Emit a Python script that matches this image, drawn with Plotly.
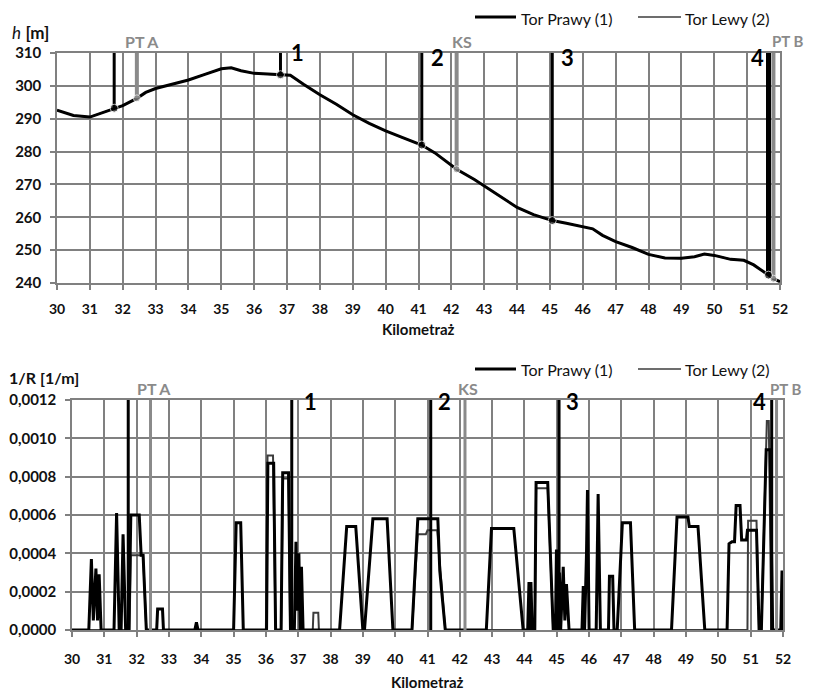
import plotly.graph_objects as go

# ---------------- data ----------------
# elevation profile (km, h [m])
km_profile = [30.0, 30.5, 31.0, 31.3, 31.74, 32.0, 32.43, 32.7, 33.0, 33.5, 34.0, 34.5, 35.0, 35.3,
              35.6, 36.0, 36.5, 36.8, 37.1, 37.5, 38.0, 38.5, 39.0, 39.5, 40.0, 40.5, 41.1, 41.5,
              42.16, 42.7, 43.0, 43.5, 44.0, 44.5, 45.07, 45.5, 46.0, 46.3, 46.6, 47.0, 47.5, 48.0,
              48.5, 49.0, 49.4, 49.7, 50.0, 50.5, 50.9, 51.2, 51.65, 51.8, 52.0]
h_profile = [292.6, 291.0, 290.5, 291.5, 293.2, 294.0, 296.2, 298.0, 299.2, 300.4, 301.8, 303.5, 305.2, 305.5,
             304.6, 303.8, 303.5, 303.4, 303.2, 300.5, 297.3, 294.4, 291.2, 288.6, 286.3, 284.3, 282.0, 279.6,
             274.6, 271.5, 269.5, 266.3, 263.0, 260.8, 259.0, 258.2, 257.2, 256.5, 254.5, 252.6, 250.8, 248.7,
             247.6, 247.5, 248.0, 248.8, 248.4, 247.2, 246.9, 245.5, 242.4, 241.3, 240.4]

# curvature 1/R [1/m] - Tor Prawy (1)
km_curv_r = [30.0, 30.52, 30.6, 30.66, 30.74, 30.79, 30.84, 30.9, 31.3, 31.38, 31.46, 31.52, 31.58, 31.66,
             31.76, 31.82, 32.08, 32.14, 32.2, 32.3, 32.62, 32.65, 32.8, 32.83, 33.8, 33.85, 33.9,
             35.0, 35.08, 35.22, 35.3, 36.02, 36.06, 36.24, 36.3, 36.47, 36.52, 36.7, 36.76,
             36.88, 36.93, 36.97, 37.02, 37.06, 37.1, 37.15, 38.28, 38.5, 38.78, 39.0, 39.05, 39.31,
             39.75, 39.93, 40.52, 40.7, 41.32, 41.38, 41.55, 42.82, 42.98, 43.67, 43.96,
             44.1, 44.14, 44.17, 44.2, 44.24, 44.32, 44.36, 44.72, 44.89, 44.96, 44.99, 45.03, 45.08,
             45.12, 45.2, 45.25, 45.3, 45.38, 45.78, 45.82, 45.86, 45.92, 45.95, 46.0, 46.22, 46.28,
             46.35, 46.6, 46.63, 46.73, 46.77, 46.87, 47.03, 47.28, 47.41, 48.55, 48.72, 49.06, 49.1,
             49.37, 49.58, 50.27, 50.33, 50.42, 50.5, 50.55, 50.67, 50.72, 50.87, 50.9, 51.18, 51.26,
             51.33, 51.48, 51.6, 51.68, 51.93, 51.97, 52.0]
curv_r = [0, 0, 0.00037, 0.00005, 0.00032, 0.00005, 0.00029, 0, 0, 0.00061, 0, 0, 0.00050, 0,
          0, 0.00060, 0.00060, 0.00039, 0.00039, 0, 0, 0.00011, 0.00011, 0, 0, 0.00004, 0,
          0, 0.00056, 0.00056, 0, 0, 0.00087, 0.00087, 0, 0, 0.00082, 0.00082, 0,
          0, 0.00046, 0.00010, 0.00040, 0, 0.00033, 0, 0, 0.00054, 0.00054, 0, 0, 0.00058,
          0.00058, 0, 0, 0.00058, 0.00058, 0.00031, 0, 0, 0.00053, 0.00053, 0,
          0, 0.00025, 0, 0.00025, 0, 0, 0.00077, 0.00077, 0, 0, 0.00042, 0, 0.00030,
          0, 0.00033, 0.00005, 0.00024, 0, 0, 0.00023, 0, 0.00040, 0.00073, 0, 0, 0.00071,
          0, 0, 0.00028, 0.00028, 0, 0, 0.00056, 0.00056, 0, 0, 0.00059, 0.00059, 0.00054,
          0.00054, 0, 0, 0.00045, 0.00046, 0.00046, 0.00065, 0.00065, 0.00047, 0.00047, 0.00052, 0.00052, 0,
          0, 0.00094, 0.00094, 0, 0, 0.00031, 0]

# curvature 1/R [1/m] - Tor Lewy (2)
km_curv_l = [30.0, 31.78, 31.82, 32.2, 32.3, 36.0, 36.05, 36.22, 36.3, 36.47, 36.53, 36.7, 36.75,
             37.45, 37.47, 37.62, 37.64, 40.52, 40.7, 40.95, 41.0, 41.3, 41.4, 41.55,
             44.32, 44.36, 44.72, 44.89, 50.9, 50.92, 51.18, 51.26, 51.33, 51.5, 51.56, 51.64, 52.0]
curv_l = [0, 0, 0.00039, 0.00039, 0, 0, 0.00091, 0.00091, 0, 0, 0.00079, 0.00079, 0,
          0, 0.00009, 0.00009, 0, 0, 0.00050, 0.00050, 0.00052, 0.00052, 0.00031, 0,
          0, 0.00074, 0.00074, 0, 0, 0.00057, 0.00057, 0, 0, 0.00109, 0.00109, 0, 0]

# characteristic points
marker_km_r = [31.74, 36.8, 41.1, 45.07, 51.65]
marker_h_r = [293.2, 303.4, 282.0, 259.0, 242.4]
marker_lbl_r = ["", "1", "2", "3", "4"]
marker_km_l = [32.43, 42.16, 51.8]
marker_h_l = [296.2, 274.6, 241.3]
marker_lbl_l = ["PT A", "KS", "PT B"]

series_names = ["Tor Prawy (1)", "Tor Lewy (2)"]
x_ticks = list(range(30, 53))
h_ticks = [240, 250, 260, 270, 280, 290, 300, 310]
c_ticks = [0.0, 0.0002, 0.0004, 0.0006, 0.0008, 0.0010, 0.0012]

# ---------------- figure ----------------
OFF = 8                      # page body margin
W, H = 813 - OFF, 692 - OFF
FONT = "Lato"
BLACK = "#000000"
GRAY = "#8a8a8a"
LEWY = "#3c3c3c"
GRID = "#808080"
TXT = "#111111"


def px(p):
    return (p - OFF) / W


def py(p):
    return 1 - (p - OFF) / H


fig = go.Figure()

# --- top chart ---
fig.add_trace(go.Scatter(x=km_profile, y=h_profile, mode="lines", name=series_names[1],
                         line=dict(color=LEWY, width=1.6), xaxis="x", yaxis="y"))
fig.add_trace(go.Scatter(x=km_profile, y=h_profile, mode="lines", name=series_names[0],
                         line=dict(color=BLACK, width=3), xaxis="x", yaxis="y"))
for k, h in zip(marker_km_l, marker_h_l):
    fig.add_trace(go.Scatter(x=[k, k], y=[h, h_ticks[-1]], mode="lines+markers",
                             line=dict(color=GRAY, width=4),
                             marker=dict(size=[7, 0], color=GRAY), xaxis="x", yaxis="y"))
for i, (k, h) in enumerate(zip(marker_km_r, marker_h_r)):
    fig.add_trace(go.Scatter(x=[k, k], y=[h, h_ticks[-1]], mode="lines+markers",
                             line=dict(color=BLACK, width=5 if i == len(marker_km_r) - 1 else 3),
                             marker=dict(size=[8, 0], color=BLACK), xaxis="x", yaxis="y"))

# --- bottom chart ---
fig.add_trace(go.Scatter(x=km_curv_l, y=curv_l, mode="lines", name=series_names[1],
                         line=dict(color=LEWY, width=2), xaxis="x2", yaxis="y2"))
fig.add_trace(go.Scatter(x=km_curv_r, y=curv_r, mode="lines", name=series_names[0],
                         line=dict(color=BLACK, width=3), xaxis="x2", yaxis="y2"))
for k in marker_km_l:
    fig.add_trace(go.Scatter(x=[k, k], y=[c_ticks[0], c_ticks[-1]], mode="lines",
                             line=dict(color=GRAY, width=3), xaxis="x2", yaxis="y2"))
for k in marker_km_r:
    fig.add_trace(go.Scatter(x=[k, k], y=[c_ticks[0], c_ticks[-1]], mode="lines",
                             line=dict(color=BLACK, width=3), xaxis="x2", yaxis="y2"))

tickfont = dict(family=FONT, size=15, color=TXT, weight="bold")
axis_common = dict(showgrid=True, gridcolor=GRID, gridwidth=1.5, showline=True, linecolor=GRID,
                   linewidth=1.5, mirror=True, ticks="outside", ticklen=5, tickcolor=GRID,
                   tickwidth=1.5, zeroline=False, tickfont=tickfont, automargin=False)
xtickfont = dict(family=FONT, size=14, color=TXT, weight="bold")

fig.update_layout(
    width=W, height=H, margin=dict(l=0, r=0, t=0, b=0),
    paper_bgcolor="white", plot_bgcolor="white",
    separators=", ", showlegend=False,
    xaxis=dict(domain=[px(57), px(780)], range=[30, 52], tickvals=x_ticks, anchor="y",
               ticklabelstandoff=7, **{**axis_common, "tickfont": xtickfont}),
    yaxis=dict(domain=[py(283), py(53)], range=[240, 310], tickvals=h_ticks, anchor="x",
               ticklabelstandoff=6, **axis_common),
    xaxis2=dict(domain=[px(72), px(783)], range=[30, 52], tickvals=x_ticks, anchor="y2",
                ticklabelstandoff=10, **{**axis_common, "tickfont": xtickfont}),
    yaxis2=dict(domain=[py(630), py(400)], range=[0, 0.0012], tickvals=c_ticks, tickformat=".4f",
                anchor="x2", ticklabelstandoff=6, **axis_common),
)

ann = []
shapes = []

# legends (drawn as key lines + text)
for ly, anchor_top in ((17, True), (369, False)):
    keys = [(475, 516, 3, BLACK, 520), (638, 681, 1.5, LEWY, 684)]
    for (x0, x1, w, c, tx), name in zip(keys, series_names):
        shapes.append(dict(type="line", xref="paper", yref="paper", x0=px(x0), x1=px(x1),
                           y0=py(ly), y1=py(ly), line=dict(color=c, width=w)))
        ann.append(dict(text=name, x=px(tx), y=1 if anchor_top else py(ly), xref="paper", yref="paper",
                        xanchor="left", yanchor="top" if anchor_top else "middle", showarrow=False,
                        borderpad=0, font=dict(family=FONT, size=16, color=TXT)))

# axis titles
ann.append(dict(text="<i>h</i> <b>[m]</b>", x=px(10), y=py(32), xref="paper", yref="paper",
                xanchor="left", yanchor="middle", showarrow=False,
                font=dict(family=FONT, size=17, color=TXT)))
ann.append(dict(text="<b>1/R [1/m]</b>", x=px(7), y=py(377), xref="paper", yref="paper",
                xanchor="left", yanchor="middle", showarrow=False,
                font=dict(family=FONT, size=16, color=TXT)))
ann.append(dict(text="<b>Kilometraż</b>", x=px((57 + 780) / 2), y=py(329), xref="paper", yref="paper",
                xanchor="center", yanchor="middle", showarrow=False, borderpad=0,
                font=dict(family=FONT, size=15, color=TXT)))
ann.append(dict(text="<b>Kilometraż</b>", x=px((72 + 783) / 2), y=py(682), xref="paper", yref="paper",
                xanchor="center", yanchor="middle", showarrow=False, borderpad=0,
                font=dict(family=FONT, size=15, color=TXT)))

# point labels, top chart
for k, lbl in zip(marker_km_r, marker_lbl_r):
    if not lbl:
        continue
    right = lbl == "4"
    ann.append(dict(text=f"<b>{lbl}</b>", x=k, y=py(52 if lbl == "1" else 57), xref="x", yref="paper",
                    xanchor="right" if right else "left", xshift=-3 if right else (9 if lbl == "1" else 7),
                    yanchor="middle", showarrow=False,
                    font=dict(family=FONT, size=22, color=BLACK)))
for k, lbl in zip(marker_km_l, marker_lbl_l):
    left = lbl == "PT B"
    ann.append(dict(text=f"<b>{lbl}</b>", x=k, y=py(41), xref="x", yref="paper",
                    xanchor="left" if left else "center", xshift=-3 if left else 5,
                    yanchor="middle", showarrow=False,
                    font=dict(family=FONT, size=16 if not left else 15, color=GRAY)))
# point labels, bottom chart
for k, lbl in zip(marker_km_r, marker_lbl_r):
    if not lbl:
        continue
    right = lbl == "4"
    ann.append(dict(text=f"<b>{lbl}</b>", x=k, y=py(401), xref="x2", yref="paper",
                    xanchor="right" if right else "left",
                    xshift=-4 if right else (10 if lbl == "1" else 5),
                    yanchor="middle", showarrow=False,
                    font=dict(family=FONT, size=22, color=BLACK)))
for k, lbl in zip(marker_km_l, marker_lbl_l):
    left = lbl == "PT B"
    ann.append(dict(text=f"<b>{lbl}</b>", x=k, y=py(389), xref="x2", yref="paper",
                    xanchor="left" if left else "center", xshift=-9 if left else 3,
                    yanchor="middle", showarrow=False,
                    font=dict(family=FONT, size=16 if not left else 15, color=GRAY)))

fig.update_layout(annotations=ann, shapes=shapes)

fig.write_html("out.html")
